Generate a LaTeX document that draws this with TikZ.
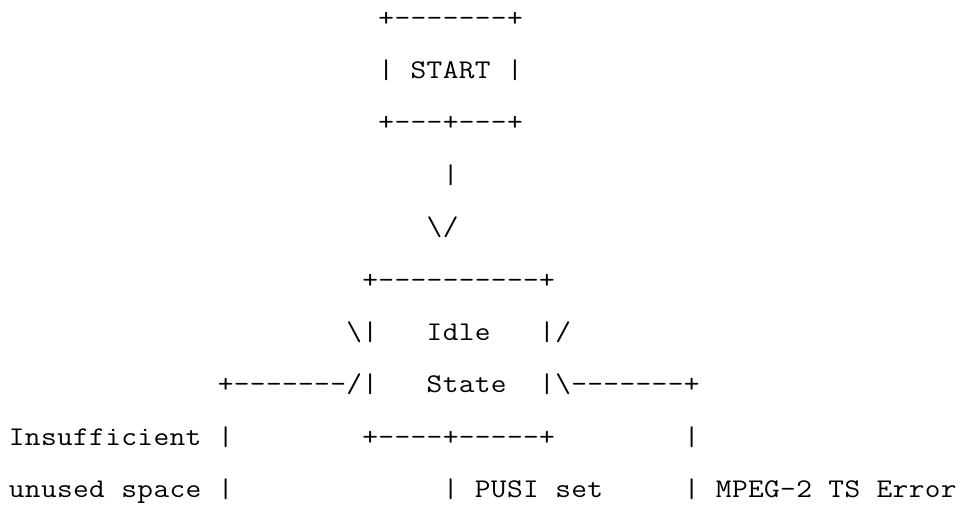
\documentclass[tikz,border=0pt]{standalone}
\usepackage{fontspec}
\usepackage{graphicx}
\usepackage{tikz}

% una cella per carattere, larga come nel riferimento
\newcommand\cells[1]{\cellsloop#1\relax}
\def\cellsloop#1{\ifx#1\relax\else\makebox[16.07pt]{\scalebox{1.13}[1]{#1}}\expandafter\cellsloop\fi}
\newcommand\cx[1]{8.5+16.07*#1}
\newcommand\ry[1]{26+52.4*#1}
\tikzset{ascii/.style={font=\ttfamily\fontsize{27}{30}\selectfont, inner sep=0pt, anchor=base west}}

\begin{document}
\begin{tikzpicture}[x=1pt,y=-1pt]
	\useasboundingbox (0,0) rectangle (959,504);
	%Start
	\node[ascii] (starttop) at ({\cx{23}},{\ry{0}}) {\cells{+-------+}};
	\node[ascii] (startl) at ({\cx{23}},{\ry{1}}) {\cells{|}};
	\node[ascii] (start) at ({\cx{25}},{\ry{1}}) {\cells{START}};
	\node[ascii] (startr) at ({\cx{31}},{\ry{1}}) {\cells{|}};
	\node[ascii] (startbot) at ({\cx{23}},{\ry{2}}) {\cells{+---+---+}};
	%Freccia
	\node[ascii] (stem) at ({\cx{27}},{\ry{3}}) {\cells{|}};
	\node[ascii] (head) at ({\cx{26}},{\ry{4}}) {\cells{\textbackslash/}};
	%Idle State
	\node[ascii] (idletop) at ({\cx{22}},{\ry{5}}) {\cells{+----------+}};
	\node[ascii] (idlel) at ({\cx{21}},{\ry{6}}) {\cells{\textbackslash|}};
	\node[ascii] (idle) at ({\cx{26}},{\ry{6}}) {\cells{Idle}};
	\node[ascii] (idler) at ({\cx{33}},{\ry{6}}) {\cells{|/}};
	\node[ascii] (statel) at ({\cx{13}},{\ry{7}}) {\cells{+-------/|}};
	\node[ascii] (state) at ({\cx{26}},{\ry{7}}) {\cells{State}};
	\node[ascii] (stater) at ({\cx{33}},{\ry{7}}) {\cells{|\textbackslash-------+}};
	\node[ascii] (idlebot) at ({\cx{22}},{\ry{8}}) {\cells{+----+-----+}};
	%Insufficient
	\node[ascii] (insuff) at ({\cx{0}},{\ry{8}}) {\cells{Insufficient}};
	\node[ascii] (insuffbar) at ({\cx{13}},{\ry{8}}) {\cells{|}};
	\node[ascii] (unused) at ({\cx{0}},{\ry{9}}) {\cells{unused~space}};
	\node[ascii] (unusedbar) at ({\cx{13}},{\ry{9}}) {\cells{|}};
	%PUSI
	\node[ascii] (pusibar) at ({\cx{27}},{\ry{9}}) {\cells{|}};
	\node[ascii] (pusi) at ({\cx{29}},{\ry{9}}) {\cells{PUSI~set}};
	%Errore
	\node[ascii] (errbar) at ({\cx{42}},{\ry{8}}) {\cells{|}};
	\node[ascii] (errbar2) at ({\cx{42}},{\ry{9}}) {\cells{|}};
	\node[ascii] (err) at ({\cx{44}},{\ry{9}}) {\cells{MPEG-2~TS~Error}};
\end{tikzpicture}
\end{document}
